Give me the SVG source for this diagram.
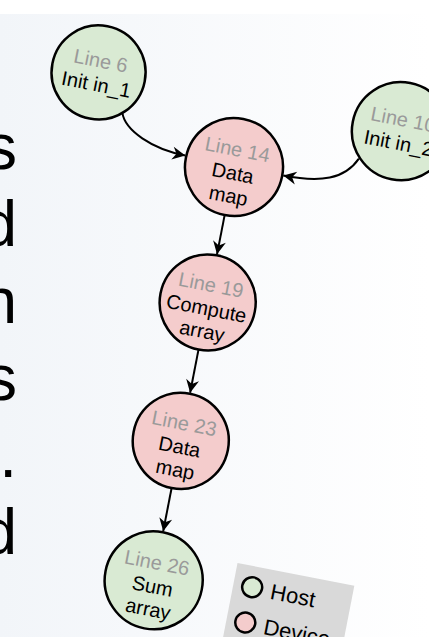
<svg xmlns="http://www.w3.org/2000/svg" width="429" height="637" viewBox="0 0 429 637">
  <defs>
    <linearGradient id="bg" x1="0" y1="0" x2="1" y2="0">
      <stop offset="0" stop-color="#f2f5f9"/>
      <stop offset="1" stop-color="#ffffff"/>
    </linearGradient>
    <marker id="arrow" viewBox="-14 -7 15 14" markerWidth="15" markerHeight="14" refX="0" refY="0" orient="auto" markerUnits="userSpaceOnUse">
      <path d="M0,0 L-13,-6.5 L-9,0 L-13,6.5 Z" fill="#000"/>
    </marker>
    <style>
      .node { stroke: #000; stroke-width: 2.5; }
      .host { fill: #d9ead3; }
      .device { fill: #f4cccc; }
      .t { font-family: "Liberation Sans", Arial, sans-serif; font-size: 20px; text-anchor: middle; fill: #000; }
      .ln { fill: #9a9a9a; }
      .edge { fill: none; stroke: #000; stroke-width: 2; marker-end: url(#arrow); }
      .big { font-family: "Liberation Sans", Arial, sans-serif; font-size: 64px; text-anchor: end; fill: #000; }
      .lg { font-family: "Liberation Sans", Arial, sans-serif; font-size: 22px; fill: #000; }
    </style>
  </defs>

  <!-- slide background -->
  <rect x="0" y="0" width="429" height="637" fill="#ffffff"/>
  <rect x="0" y="14" width="429" height="623" fill="url(#bg)"/>

  <!-- tail ends of the slide's body text -->
  <g id="body-text">
    <text class="big" x="17" y="169">s</text>
    <text class="big" x="17" y="246">d</text>
    <text class="big" x="17" y="323">n</text>
    <text class="big" x="17" y="400">s</text>
    <text class="big" x="17" y="477">.</text>
    <text class="big" x="17" y="554">d</text>
  </g>

  <!-- dependency graph, tilted as a whole -->
  <g transform="rotate(11 234 167)">
    <g id="connectors">
      <path class="edge" d="M114,135 C120,152 150,165 184,165"/>
      <path class="edge" d="M355,135 C345,158 322,166 284,166"/>
      <path class="edge" d="M234,216 L234,256"/>
      <path class="edge" d="M234,353 L234,397"/>
      <path class="edge" d="M234,494 L234,538"/>
    </g>

    <g id="n6">
      <circle class="node host" cx="83" cy="100" r="47"/>
      <text class="t ln" x="83" y="95">Line 6</text>
      <text class="t" x="83" y="119">Init in_1</text>
    </g>

    <g id="n10">
      <circle class="node host" cx="391" cy="100" r="49"/>
      <text class="t ln" x="391" y="95">Line 10</text>
      <text class="t" x="391" y="119">Init in_2</text>
    </g>

    <g id="n14">
      <circle class="node device" cx="234" cy="167" r="49"/>
      <text class="t ln" x="234" y="156">Line 14</text>
      <text class="t" x="234" y="180">Data</text>
      <text class="t" x="234" y="203">map</text>
    </g>

    <g id="n19">
      <circle class="node device" cx="234" cy="305" r="48"/>
      <text class="t ln" x="234" y="294">Line 19</text>
      <text class="t" x="234" y="318">Compute</text>
      <text class="t" x="234" y="341">array</text>
    </g>

    <g id="n23">
      <circle class="node device" cx="234" cy="446" r="48"/>
      <text class="t ln" x="234" y="435">Line 23</text>
      <text class="t" x="234" y="459">Data</text>
      <text class="t" x="234" y="482">map</text>
    </g>

    <g id="n26">
      <circle class="node host" cx="234" cy="588" r="49"/>
      <text class="t ln" x="234" y="577">Line 26</text>
      <text class="t" x="234" y="601">Sum</text>
      <text class="t" x="234" y="624">array</text>
    </g>

    <g id="legend">
      <rect x="313" y="555" width="119" height="120" fill="#d9d9d9"/>
      <circle class="node host" cx="332" cy="576" r="10"/>
      <text class="lg" x="351" y="584">Host</text>
      <circle class="node device" cx="332" cy="612" r="10"/>
      <text class="lg" x="351" y="620">Device</text>
    </g>
  </g>
</svg>
